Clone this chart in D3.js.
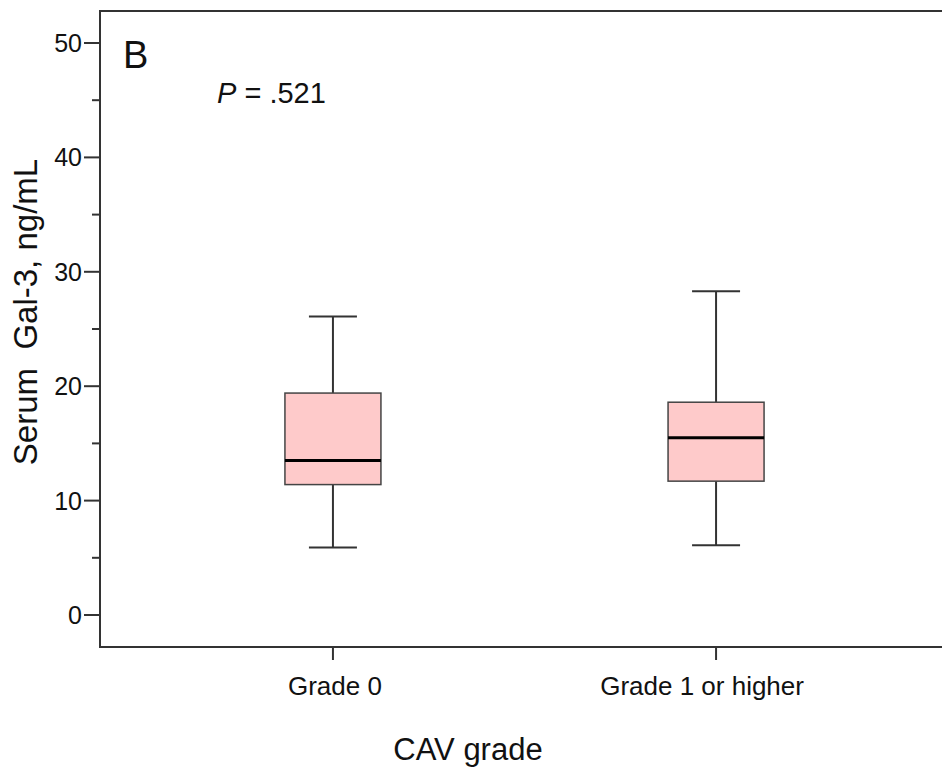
<!DOCTYPE html>
<html lang="en">
<head>
  <meta charset="UTF-8" />
  <title>Serum Gal-3 by CAV grade</title>
  <script src="https://d3js.org/d3.v7.min.js"></script>
  <style>
    body { margin: 0; background: #fff; }
    svg text { font-family: "Liberation Sans", Arial, sans-serif; fill: #111; }
  </style>
</head>
<body>
  <svg id="chart" width="942" height="769"></svg>
  <script>
    // box stats
    const groups = ["Grade 0", "Grade 1 or higher"];
    const whiskerLow = [5.9, 6.1];
    const q1 = [11.4, 11.7];
    const median = [13.5, 15.5];
    const q3 = [19.4, 18.6];
    const whiskerHigh = [26.1, 28.3];
    const majorTicks = [0, 10, 20, 30, 40, 50];
    const minorTicks = [5, 15, 25, 35, 45];

    const svg = d3.select("#chart");
    const frameLeft = 100, frameTop = 11, frameBottom = 647, frameRight = 949;
    const lineCol = "#333";

    const y = d3.scaleLinear().domain([0, 50]).range([615, 43]);
    const x = d3.scalePoint().domain(groups).range([frameLeft, frameRight]).padding(0.608);

    const boxW = 96, capW = 48;

    const rows = groups.map((g, i) => ({
      g, lo: whiskerLow[i], q1: q1[i], med: median[i], q3: q3[i], hi: whiskerHigh[i]
    }));

    // frame (open on the right, like the original crop)
    svg.append("path")
      .attr("d", `M${942},${frameTop}H${frameLeft}V${frameBottom}H${942}`)
      .attr("fill", "none")
      .attr("stroke", lineCol)
      .attr("stroke-width", 2);

    // y axis ticks
    const yAxis = svg.append("g");
    yAxis.selectAll("line.major")
      .data(majorTicks)
      .join("line")
      .attr("class", "major")
      .attr("x1", frameLeft - 16).attr("x2", frameLeft)
      .attr("y1", d => y(d)).attr("y2", d => y(d))
      .attr("stroke", lineCol).attr("stroke-width", 2);
    yAxis.selectAll("line.minor")
      .data(minorTicks)
      .join("line")
      .attr("class", "minor")
      .attr("x1", frameLeft - 8).attr("x2", frameLeft)
      .attr("y1", d => y(d)).attr("y2", d => y(d))
      .attr("stroke", lineCol).attr("stroke-width", 2);
    yAxis.selectAll("text")
      .data(majorTicks)
      .join("text")
      .attr("x", frameLeft - 18)
      .attr("y", d => y(d))
      .attr("dy", "0.36em")
      .attr("text-anchor", "end")
      .attr("font-size", 25)
      .text(d => d);

    // x axis ticks
    const xAxis = svg.append("g");
    xAxis.selectAll("line")
      .data(groups)
      .join("line")
      .attr("x1", d => x(d)).attr("x2", d => x(d))
      .attr("y1", frameBottom).attr("y2", frameBottom + 13)
      .attr("stroke", lineCol).attr("stroke-width", 2);
    xAxis.selectAll("text")
      .data(groups)
      .join("text")
      .attr("x", d => x(d))
      .attr("dx", (d, i) => i ? -14 : 2)
      .attr("y", 695)
      .attr("text-anchor", "middle")
      .attr("font-size", 26)
      .text(d => d);

    // boxes
    const box = svg.append("g").selectAll("g")
      .data(rows)
      .join("g");

    box.append("line")
      .attr("x1", d => x(d.g)).attr("x2", d => x(d.g))
      .attr("y1", d => y(d.hi)).attr("y2", d => y(d.q3))
      .attr("stroke", lineCol).attr("stroke-width", 2);
    box.append("line")
      .attr("x1", d => x(d.g)).attr("x2", d => x(d.g))
      .attr("y1", d => y(d.q1)).attr("y2", d => y(d.lo))
      .attr("stroke", lineCol).attr("stroke-width", 2);
    box.append("line")
      .attr("x1", d => x(d.g) - capW / 2).attr("x2", d => x(d.g) + capW / 2)
      .attr("y1", d => y(d.hi)).attr("y2", d => y(d.hi))
      .attr("stroke", lineCol).attr("stroke-width", 2);
    box.append("line")
      .attr("x1", d => x(d.g) - capW / 2).attr("x2", d => x(d.g) + capW / 2)
      .attr("y1", d => y(d.lo)).attr("y2", d => y(d.lo))
      .attr("stroke", lineCol).attr("stroke-width", 2);
    box.append("rect")
      .attr("x", d => x(d.g) - boxW / 2)
      .attr("width", boxW)
      .attr("y", d => y(d.q3))
      .attr("height", d => y(d.q1) - y(d.q3))
      .attr("fill", "#fecaca")
      .attr("stroke", "#444")
      .attr("stroke-width", 1.5);
    box.append("line")
      .attr("x1", d => x(d.g) - boxW / 2).attr("x2", d => x(d.g) + boxW / 2)
      .attr("y1", d => y(d.med)).attr("y2", d => y(d.med))
      .attr("stroke", "#000").attr("stroke-width", 3);

    // labels
    svg.append("text")
      .attr("x", 123).attr("y", 68)
      .attr("font-size", 38)
      .text("B");

    const p = svg.append("text")
      .attr("x", 217).attr("y", 103)
      .attr("font-size", 29);
    p.append("tspan").attr("font-style", "italic").text("P");
    p.append("tspan").text(" = .521");

    svg.append("text")
      .attr("x", 468).attr("y", 760)
      .attr("text-anchor", "middle")
      .attr("font-size", 31)
      .text("CAV grade");

    svg.append("text")
      .attr("transform", "translate(37,312) rotate(-90)")
      .attr("text-anchor", "middle")
      .attr("font-size", 33)
      .attr("xml:space", "preserve")
      .text("Serum  Gal-3, ng/mL");
  </script>
</body>
</html>
